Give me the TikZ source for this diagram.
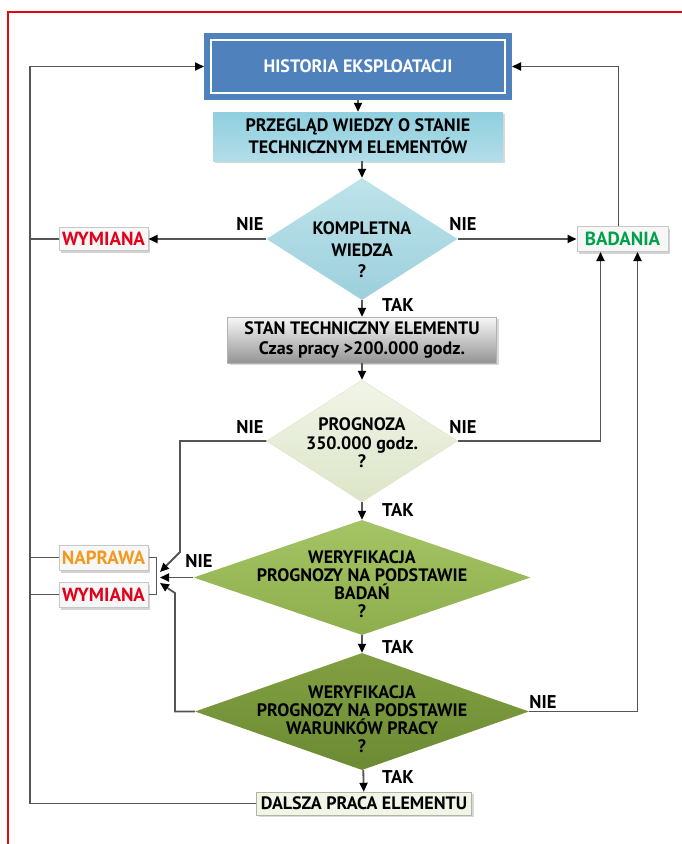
\documentclass[tikz,border=0pt]{standalone}
\usepackage{fontspec}
\setmainfont{PT Sans}
\usetikzlibrary{shapes.geometric,arrows.meta,shadows,calc}

\definecolor{ramka}{HTML}{E30613}
\definecolor{niebieski}{HTML}{4F81BD}
\definecolor{liniagr}{HTML}{555555}
\definecolor{czerwony}{HTML}{E2001A}
\definecolor{pomarancz}{HTML}{F39A1E}
\definecolor{zielony}{HTML}{00A04A}
\definecolor{turkus1}{HTML}{8FCFDF}
\definecolor{turkus2}{HTML}{4BACC6}
\definecolor{turkus3}{HTML}{B2DDE8}
\definecolor{blekit1}{HTML}{BEE3EB}
\definecolor{blekit2}{HTML}{9CD0DC}
\definecolor{jasnyz1}{HTML}{F1F5E8}
\definecolor{jasnyz2}{HTML}{DCE5C8}
\definecolor{zielen1}{HTML}{A5C465}
\definecolor{zielen2}{HTML}{8EAE4D}
\definecolor{oliwka1}{HTML}{82A042}
\definecolor{oliwka2}{HTML}{6C8A32}

\tikzset{
  linia/.style={draw=liniagr, line width=1.8pt},
  strzalka/.style={linia, -{Triangle[length=9pt,width=8pt,color=black]}},
  tekst/.style={font=\bfseries\fontsize{18}{22}\selectfont, align=center, inner sep=0pt},
  blok/.style={tekst, rectangle, inner sep=0pt, drop shadow={opacity=.3, shadow xshift=2pt, shadow yshift=-2pt}},
  romb/.style={diamond, inner sep=0pt, minimum width=#1},
  etykieta/.style={rectangle, fill=black!3, draw=black!22, line width=1pt,
    minimum width=89pt, minimum height=23pt, inner sep=0pt,
    font=\bfseries\fontsize{19}{20}\selectfont,
    drop shadow={opacity=.35, shadow xshift=1.5pt, shadow yshift=-2.5pt}},
  odp/.style={font=\bfseries\fontsize{18.5}{20}\selectfont, inner sep=0pt}
}

\begin{document}
\begin{tikzpicture}[x=1pt,y=-1pt]
\useasboundingbox (0,0) rectangle (682,844);

% Ramka
\draw[ramka, line width=2.5pt] (8,846) -- (8,12) -- (684,12);

% Bloki glowne
\node[tekst, text=white, draw=niebieski, fill=niebieski, line width=6pt,
  double=white, double distance=2pt, outer sep=7pt,
  minimum width=294pt, minimum height=53pt] (hist) at (358,66.5) {HISTORIA EKSPLOATACJI};
\node[blok, top color=turkus1, middle color=turkus2, bottom color=turkus3,
  minimum width=290pt, minimum height=49pt]
  (przeg) at (358,136.5) {PRZEGLĄD WIEDZY O STANIE\\TECHNICZNYM ELEMENTÓW};
\node[blok, draw=black!30, top color=black!3, bottom color=black!42,
  minimum width=269pt, minimum height=46pt, font=\bfseries\fontsize{18}{20}\selectfont]
  (stan) at (362,340) {STAN TECHNICZNY ELEMENTU\\Czas pracy >200.000 godz.};
\node[blok, draw=jasnyz2!80!black, fill=jasnyz1, minimum width=215pt, minimum height=23pt]
  (dalsza) at (364,803.5) {DALSZA PRACA ELEMENTU};

% Romby
\node[romb=191pt, minimum height=122pt, top color=blekit1, bottom color=blekit2] (d1) at (362,239) {};
\node[romb=191pt, minimum height=122pt, draw=jasnyz2, top color=jasnyz1, bottom color=jasnyz2] (d2) at (362,441) {};
\node[romb=337pt, minimum height=115pt, top color=zielen1, bottom color=zielen2] (d3) at (362,577.5) {};
\node[romb=334pt, minimum height=117pt, top color=oliwka1, bottom color=oliwka2] (d4) at (362,711.5) {};

\node[tekst, font=\bfseries\fontsize{18}{21.5}\selectfont] (d1t) at (362,250) {KOMPLETNA\\WIEDZA\\?};
\node[tekst, font=\bfseries\fontsize{18}{18.5}\selectfont] (d2t) at (362,443) {PROGNOZA\\350.000 godz.\\?};
\node[tekst, font=\bfseries\fontsize{18}{18}\selectfont] (d3t) at (362,584) {WERYFIKACJA\\PROGNOZY NA PODSTAWIE\\BADAŃ\\?};
\node[tekst, font=\bfseries\fontsize{18}{18}\selectfont] (d4t) at (362,719) {WERYFIKACJA\\PROGNOZY NA PODSTAWIE\\WARUNKÓW PRACY\\?};

% Etykiety boczne
\node[etykieta, text=czerwony] (wym1) at (103.5,239) {WYMIANA};
\node[etykieta, text=zielony, minimum width=91pt, minimum height=25pt] (bad) at (622.5,239) {BADANIA};
\node[etykieta, text=pomarancz, minimum height=25pt] (napr) at (103.5,557.5) {NAPRAWA};
\node[etykieta, text=czerwony, minimum height=25pt] (wym2) at (103.5,594.5) {WYMIANA};

% Odpowiedzi
\foreach \x/\y/\t [count=\i] in {250/224/NIE, 463/224/NIE, 250/427/NIE, 463/427/NIE,
    199/561/NIE, 543/702/NIE, 398/305/TAK, 398/510/TAK, 398/647/TAK, 398/777/TAK}
  \node[odp] (odp\i) at (\x,\y) {\t};

% Polaczenia
\coordinate (lbus) at (30,0);
\coordinate (m1) at (160,572);
\coordinate (m2) at (160,577.5);
\coordinate (m3) at (160,583);

\draw[strzalka] (hist) -- (przeg);
\draw[strzalka] (przeg.south -| d1.north) -- (d1.north);
\draw[strzalka] (d1) -- (stan);
\draw[strzalka] (stan) -- (d2);
\draw[strzalka] (d2) -- (d3);
\draw[strzalka] (d3) -- (d4);
\draw[strzalka] (d4) -- (dalsza);

\draw[strzalka] (d1.west) -- (wym1.east);
\draw[strzalka] (d1.east) -- (bad.west);
\draw[strzalka] ([xshift=-4pt]bad.north) |- (hist.east);
\draw[strzalka] (d2.east) -| ([xshift=-22pt]bad.south);
\draw[strzalka] (d4.east) -| ([xshift=15pt]bad.south);

\draw[strzalka] (dalsza.west) -| (lbus |- hist.west) -- (hist.west);
\foreach \n in {wym1, napr, wym2}
  \draw[linia] (\n.west) -- (\n.west -| lbus);

\draw[linia] (napr.east) -- ++(8,0) |- (wym2.east);
\draw[strzalka] (d2.west) -| ($(m1)+(20,-20)$) -- (m1);
\draw[strzalka] (d3.west) -- (m2);
\draw[strzalka] (d4.west) -| ($(m3)+(15,10)$) -- (m3);
\end{tikzpicture}
\end{document}
